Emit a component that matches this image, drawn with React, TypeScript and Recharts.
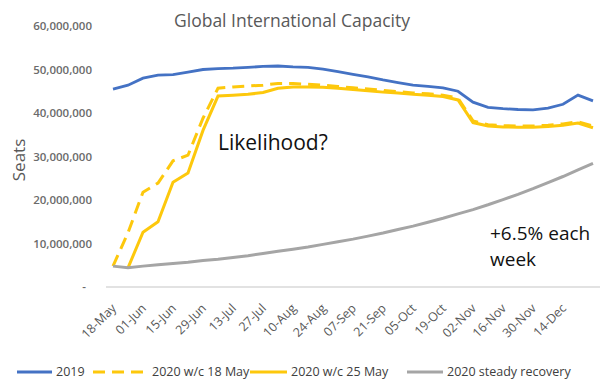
import { LineChart, Line, XAxis, YAxis, Legend } from "recharts";

const weeks = [
  "18-May", "25-May", "01-Jun", "08-Jun", "15-Jun", "22-Jun", "29-Jun", "06-Jul",
  "13-Jul", "20-Jul", "27-Jul", "03-Aug", "10-Aug", "17-Aug", "24-Aug", "31-Aug",
  "07-Sep", "14-Sep", "21-Sep", "28-Sep", "05-Oct", "12-Oct", "19-Oct", "26-Oct",
  "02-Nov", "09-Nov", "16-Nov", "23-Nov", "30-Nov", "07-Dec", "14-Dec", "21-Dec",
  "28-Dec",
];

// every other week is labelled, last two weeks unlabelled
const shownLabels = [
  "18-May", "01-Jun", "15-Jun", "29-Jun", "13-Jul", "27-Jul", "10-Aug", "24-Aug",
  "07-Sep", "21-Sep", "05-Oct", "19-Oct", "02-Nov", "16-Nov", "30-Nov", "14-Dec",
];

// millions of seats
const cap2019 = [
  45.5, 46.4, 48.0, 48.7, 48.8, 49.4, 50.0, 50.2, 50.3, 50.5, 50.7, 50.8, 50.6,
  50.5, 50.1, 49.5, 48.9, 48.3, 47.6, 47.0, 46.4, 46.1, 45.8, 45.0, 42.5, 41.3,
  41.0, 40.8, 40.7, 41.1, 42.0, 44.1, 42.8,
];
const cap18May = [
  4.8, 12.5, 21.8, 23.9, 29.0, 30.3, 38.8, 45.7, 46.0, 46.2, 46.4, 46.8, 46.8,
  46.6, 46.4, 46.1, 45.8, 45.5, 45.2, 44.9, 44.6, 44.4, 44.1, 43.4, 38.2, 37.3,
  37.1, 37.0, 37.0, 37.2, 37.5, 38.0, 37.0,
];
const cap25May = [
  null, 4.4, 12.6, 15.0, 24.1, 26.2, 36.0, 43.9, 44.1, 44.3, 44.7, 45.7, 46.0,
  46.0, 45.9, 45.7, 45.4, 45.1, 44.8, 44.6, 44.3, 44.1, 43.8, 43.0, 37.8, 37.0,
  36.8, 36.7, 36.7, 36.9, 37.2, 37.7, 36.6,
];
const recovery = [
  4.8, 4.4, 4.8, 5.1, 5.4, 5.7, 6.1, 6.4, 6.8, 7.2, 7.7, 8.2, 8.7, 9.2, 9.8,
  10.4, 11.0, 11.7, 12.4, 13.2, 14.0, 14.9, 15.8, 16.8, 17.8, 18.9, 20.1, 21.3,
  22.6, 24.0, 25.4, 26.9, 28.4,
];

const yTicks = [0, 10e6, 20e6, 30e6, 40e6, 50e6, 60e6];

const data = weeks.map((w, i) => ({
  week: w,
  a: cap2019[i] * 1e6,
  b: cap18May[i] * 1e6,
  c: cap25May[i] == null ? null : (cap25May[i] as number) * 1e6,
  d: recovery[i] * 1e6,
}));

const BLUE = "#4472C4";
const GOLD = "#FDC80C";
const GREY = "#A5A5A5";
const FONT = "'Open Sans', sans-serif";

const legendItems = [
  { key: "a", name: "2019", color: BLUE, dash: undefined, left: 17, w: 35 },
  { key: "b", name: "2020 w/c 18 May", color: GOLD, dash: "12 7", left: 93, w: 55 },
  { key: "c", name: "2020 w/c 25 May", color: GOLD, dash: undefined, left: 250, w: 37 },
  { key: "d", name: "2020 steady recovery", color: GREY, dash: undefined, left: 407, w: 36 },
];

function XTick({ x, y, payload }: any) {
  if (!shownLabels.includes(payload.value)) return null;
  return (
    <g transform={`translate(${x + 4},${y + 14})`}>
      <text
        textAnchor="end"
        transform="rotate(-45)"
        fontSize={12.5}
        fill="#595959"
        fontFamily={FONT}
      >
        {payload.value}
      </text>
    </g>
  );
}

function YTick({ x, y, payload }: any) {
  const label = payload.value === 0 ? "-" : payload.value.toLocaleString("en-US");
  return (
    <text
      x={payload.value === 0 ? x - 6 : x}
      y={y}
      dy={4}
      textAnchor="end"
      fontSize={11.5}
      fontWeight={600}
      fill="#6b6b6b"
      fontFamily={FONT}
    >
      {label}
    </text>
  );
}

function LegendBox() {
  return (
    <div style={{ position: "relative", width: 604, height: 31 }}>
      {legendItems.map((it) => (
        <div
          key={it.key}
          style={{
            position: "absolute",
            left: it.left,
            top: 14,
            display: "flex",
            alignItems: "center",
            whiteSpace: "nowrap",
          }}
        >
          <svg width={it.w} height={10} style={{ marginRight: 4 }}>
            <line
              x1={0}
              y1={5}
              x2={it.w}
              y2={5}
              stroke={it.color}
              strokeWidth={3}
              strokeDasharray={it.dash}
            />
          </svg>
          <span style={{ fontSize: 12.5, color: "#404040", fontFamily: FONT }}>
            {it.name}
          </span>
        </div>
      ))}
    </div>
  );
}

export default function App() {
  return (
    <div
      style={{
        position: "absolute",
        left: 0,
        top: 0,
        width: 604,
        height: 380,
        background: "#fff",
        fontFamily: FONT,
      }}
    >
      <LineChart
        width={604}
        height={380}
        data={data}
        margin={{ top: 26, right: 4, left: 0, bottom: 0 }}
      >
        <XAxis
          dataKey="week"
          interval={0}
          tick={<XTick />}
          tickLine={false}
          axisLine={{ stroke: "#d9d9d9", strokeWidth: 1.5 }}
          padding={{ left: 7, right: 7 }}
          height={62}
        />
        <YAxis
          domain={[0, 60e6]}
          ticks={yTicks}
          width={106}
          tick={<YTick />}
          tickLine={false}
          axisLine={false}
          tickMargin={8}
        />
        <Legend
          verticalAlign="bottom"
          height={31}
          content={() => <LegendBox />}
          wrapperStyle={{ left: 0, width: 604 }}
        />
        <Line dataKey="a" name="2019" stroke={BLUE} strokeWidth={2.8} dot={false} isAnimationActive={false} />
        <Line dataKey="b" name="2020 w/c 18 May" stroke={GOLD} strokeWidth={3} strokeDasharray="12 7" dot={false} isAnimationActive={false} />
        <Line dataKey="c" name="2020 w/c 25 May" stroke={GOLD} strokeWidth={3} dot={false} isAnimationActive={false} />
        <Line dataKey="d" name="2020 steady recovery" stroke={GREY} strokeWidth={3} dot={false} isAnimationActive={false} />
      </LineChart>

      <div style={{ position: "absolute", left: 174, top: 8, fontSize: 17.5, color: "#595959" }}>
        Global International Capacity
      </div>
      <div
        style={{
          position: "absolute",
          left: 18,
          top: 160,
          fontSize: 17,
          color: "#595959",
          transform: "translate(-50%, -50%) rotate(-90deg)",
        }}
      >
        Seats
      </div>
      <div style={{ position: "absolute", left: 218, top: 128, fontSize: 21, color: "#111" }}>
        Likelihood?
      </div>
      <div
        style={{
          position: "absolute",
          left: 490,
          top: 220,
          fontSize: 19,
          lineHeight: "26px",
          color: "#111",
        }}
      >
        +6.5% each
        <br />
        week
      </div>
    </div>
  );
}
